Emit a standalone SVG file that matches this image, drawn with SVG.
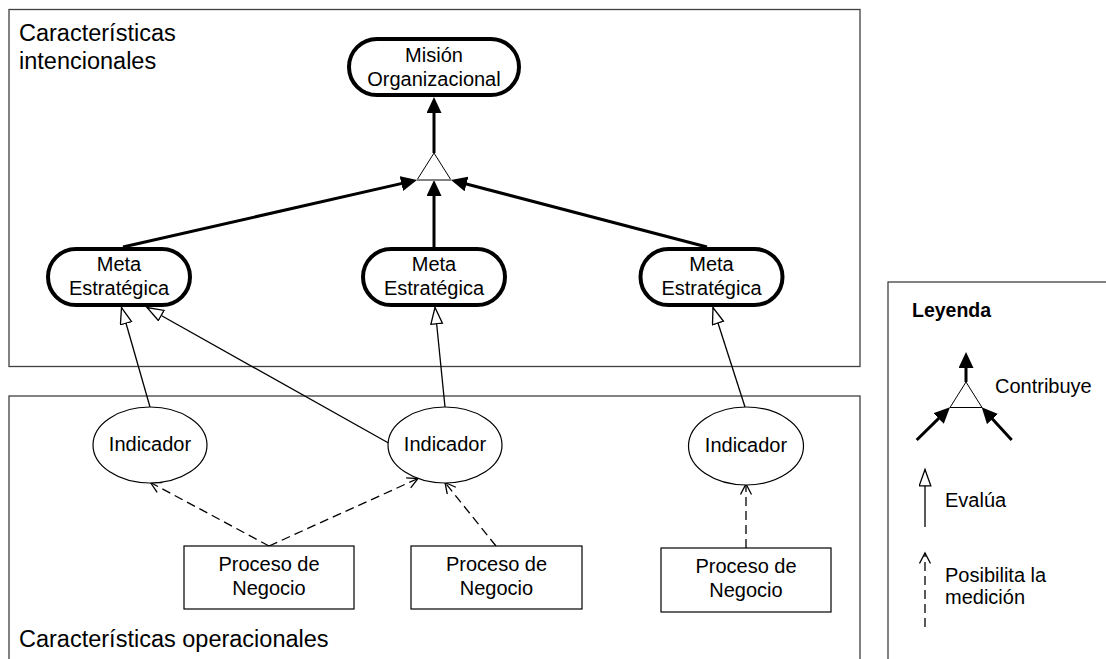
<svg xmlns="http://www.w3.org/2000/svg" width="1106" height="659" viewBox="0 0 1106 659">
  <style>
    text { font-family: "Liberation Sans", Arial, Helvetica, sans-serif; fill: #000; }
    .frame { fill: none; stroke: #404040; stroke-width: 1.3; }
    .title { font-size: 23.5px; }
    .lbl { font-size: 20px; text-anchor: middle; }
    .leg { font-size: 20px; }
    .goal { fill: #fff; stroke: #000; stroke-width: 4; }
    .ind { fill: #fff; stroke: #000; stroke-width: 1.2; }
    .proc { fill: #fff; stroke: #000; stroke-width: 1.2; }
    .contrib { fill: none; stroke: #000; stroke-width: 3; marker-end: url(#filled); }
    .eval { fill: none; stroke: #000; stroke-width: 1.3; marker-end: url(#hollow); }
    .meas { fill: none; stroke: #000; stroke-width: 1.3; stroke-dasharray: 9 5; marker-end: url(#open); }
    .tri { fill: #fff; stroke: #000; stroke-width: 1; }
  </style>
  <defs>
    <!-- solid head for "contribuye" links -->
    <marker id="filled" markerUnits="userSpaceOnUse" markerWidth="18" markerHeight="16" refX="12" refY="7.5" orient="auto">
      <path d="M0,0 L16,7.5 L0,15 z" fill="#000"/>
    </marker>
    <!-- hollow head for "evalúa" links -->
    <marker id="hollow" markerUnits="userSpaceOnUse" markerWidth="20" markerHeight="16" refX="17" refY="6.5" orient="auto">
      <path d="M0.7,0.7 L17,6.5 L0.7,12.3 z" fill="#fff" stroke="#000" stroke-width="1.3"/>
    </marker>
    <!-- open head for "posibilita la medición" links -->
    <marker id="open" markerUnits="userSpaceOnUse" markerWidth="14" markerHeight="14" refX="11" refY="6" orient="auto">
      <path d="M0.5,0.5 L11,6 L0.5,11.5" fill="none" stroke="#000" stroke-width="1.3"/>
    </marker>
  </defs>

  <!-- frames -->
  <g id="frame-intencional">
    <rect class="frame" x="9" y="9.5" width="851" height="357"/>
    <text class="title" x="19" y="41">Características</text>
    <text class="title" x="19" y="69">intencionales</text>
  </g>
  <g id="frame-operacional">
    <rect class="frame" x="9" y="396" width="851" height="300"/>
    <text class="title" x="19" y="647">Características operacionales</text>
  </g>

  <!-- connectors -->
  <g id="connectors">
    <!-- contribution into the AND node and up to the mission -->
    <path class="contrib" d="M434,153 L434,101"/>
    <path class="contrib" d="M123,247 L413.1,180.9"/>
    <path class="contrib" d="M434,247 L434,184"/>
    <path class="contrib" d="M707,247 L454.9,181"/>
    <!-- indicators evaluate goals -->
    <path class="eval" d="M150,407 L121.5,307.5"/>
    <path class="eval" d="M388.5,443 L147,307.5"/>
    <path class="eval" d="M445,407 L435,307.5"/>
    <path class="eval" d="M745,407 L713,307.5"/>
    <!-- processes enable measurement -->
    <path class="meas" d="M269,546 L150.5,482.5"/>
    <path class="meas" d="M269,546 L418,478.5"/>
    <path class="meas" d="M496,546 L445,482.5"/>
    <path class="meas" d="M746,548 L746,484"/>
  </g>

  <!-- AND / contribution node -->
  <g id="and-node">
    <polygon class="tri" points="434,153 417,180 451,180"/>
    <line x1="417" y1="180" x2="451" y2="180" stroke="#808080" stroke-width="2"/>
  </g>

  <!-- goals -->
  <g id="mision">
    <rect class="goal" x="349" y="39" width="170" height="56" rx="28"/>
    <text class="lbl" x="434" y="62">Misión</text>
    <text class="lbl" x="434" y="86">Organizacional</text>
  </g>
  <g id="meta-1">
    <rect class="goal" x="48" y="249" width="142" height="56" rx="28"/>
    <text class="lbl" x="119" y="271">Meta</text>
    <text class="lbl" x="119" y="295">Estratégica</text>
  </g>
  <g id="meta-2">
    <rect class="goal" x="363" y="249" width="142" height="56" rx="28"/>
    <text class="lbl" x="434" y="271">Meta</text>
    <text class="lbl" x="434" y="295">Estratégica</text>
  </g>
  <g id="meta-3">
    <rect class="goal" x="640.5" y="249" width="142" height="56" rx="28"/>
    <text class="lbl" x="711.5" y="271">Meta</text>
    <text class="lbl" x="711.5" y="295">Estratégica</text>
  </g>

  <!-- indicators -->
  <g id="indicador-1">
    <ellipse class="ind" cx="150" cy="445" rx="57" ry="38"/>
    <text class="lbl" x="150" y="451">Indicador</text>
  </g>
  <g id="indicador-2">
    <ellipse class="ind" cx="445" cy="445" rx="57" ry="38"/>
    <text class="lbl" x="445" y="451">Indicador</text>
  </g>
  <g id="indicador-3">
    <ellipse class="ind" cx="746" cy="446" rx="57.5" ry="39"/>
    <text class="lbl" x="746" y="452">Indicador</text>
  </g>

  <!-- business processes -->
  <g id="proceso-1">
    <rect class="proc" x="184" y="546" width="170" height="63"/>
    <text class="lbl" x="269" y="571">Proceso de</text>
    <text class="lbl" x="269" y="595">Negocio</text>
  </g>
  <g id="proceso-2">
    <rect class="proc" x="411" y="546" width="171" height="63"/>
    <text class="lbl" x="496.5" y="571">Proceso de</text>
    <text class="lbl" x="496.5" y="595">Negocio</text>
  </g>
  <g id="proceso-3">
    <rect class="proc" x="661" y="548" width="170" height="64"/>
    <text class="lbl" x="746" y="573">Proceso de</text>
    <text class="lbl" x="746" y="597">Negocio</text>
  </g>

  <!-- legend -->
  <g id="leyenda">
    <rect class="frame" x="888" y="282" width="240" height="400"/>
    <text x="912" y="317" style="font-size:19.5px;font-weight:bold">Leyenda</text>
    <polygon class="tri" points="966,382 950,407.5 982,407.5"/>
    <path class="contrib" d="M966,382 L966,356"/>
    <path class="contrib" d="M916.7,440 L947.1,410.1"/>
    <path class="contrib" d="M1011.7,440 L984.4,410.2"/>
    <text class="leg" x="995" y="393">Contribuye</text>
    <path class="eval" d="M925,527 L925,469.5"/>
    <text class="leg" x="945" y="507">Evalúa</text>
    <path class="meas" d="M925,627 L925,553"/>
    <text class="leg" x="945" y="582">Posibilita la</text>
    <text class="leg" x="945" y="604">medición</text>
  </g>
</svg>
